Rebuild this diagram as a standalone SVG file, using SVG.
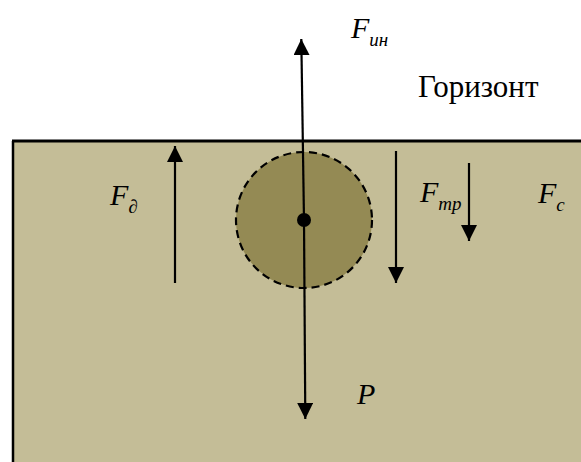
<svg xmlns="http://www.w3.org/2000/svg" width="581" height="462" viewBox="0 0 581 462">
<defs>
<style>
.lbl{font-style:italic;font-size:30px;fill:#000}
.sub{font-size:19px}
.txt{font-size:31px;fill:#000}
.arr{stroke:#000;stroke-width:2.2;fill:none}
</style>
<marker id="ahb" viewBox="0 0 10 10" refX="10" refY="5" markerWidth="16" markerHeight="16" markerUnits="userSpaceOnUse" orient="auto">
<path d="M0,0 L10,5 L0,10 z" fill="#000"/>
</marker>
</defs>
<rect width="581" height="462" fill="#fff"/>
<g id="ground">
<rect x="13" y="141" width="570" height="325" fill="#C4BD97"/>
<line x1="13" y1="141" x2="13" y2="462" stroke="#000" stroke-width="2.5"/>
<line x1="12" y1="141" x2="581" y2="141" stroke="#000" stroke-width="3"/>
</g>
<g id="body">
<circle cx="304" cy="220" r="68" fill="#948A54" stroke="#000" stroke-width="2.2" stroke-dasharray="8,5"/>
</g>
<g id="connectors">
<line class="arr" x1="304" y1="220" x2="301.3" y2="39" marker-end="url(#ahb)"/>
<line class="arr" x1="304" y1="220" x2="305.3" y2="419" marker-end="url(#ahb)"/>
<line class="arr" x1="175" y1="283" x2="175" y2="146" marker-end="url(#ahb)"/>
<line class="arr" x1="396" y1="151" x2="396" y2="283" marker-end="url(#ahb)"/>
<line class="arr" x1="469" y1="163" x2="469" y2="241" marker-end="url(#ahb)"/>
</g>
<g id="center">
<circle cx="304" cy="220" r="7" fill="#000"/>
</g>
<g id="labels" font-family="Liberation Serif, DejaVu Serif, serif">
<text class="txt" x="418" y="97">Горизонт</text>
<text class="lbl" x="351" y="38">F<tspan class="sub" dy="8">ин</tspan></text>
<text class="lbl" x="110" y="205">F<tspan class="sub" dy="8">∂</tspan></text>
<text class="lbl" x="420" y="202">F<tspan class="sub" dy="8">mp</tspan></text>
<text class="lbl" x="538" y="203">F<tspan class="sub" dy="8">c</tspan></text>
<text class="lbl" x="357" y="404">P</text>
</g>
</svg>
